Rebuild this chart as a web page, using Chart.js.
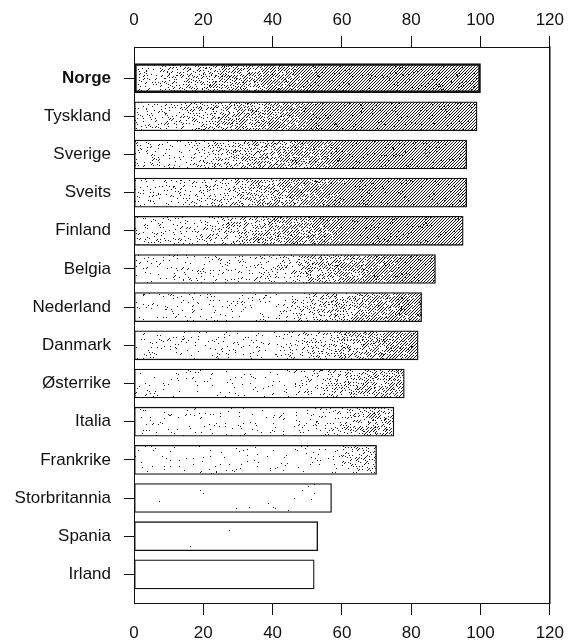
<!DOCTYPE html>
<html>
<head>
<meta charset="utf-8">
<script src="https://cdn.jsdelivr.net/npm/chart.js@4.4.0/dist/chart.umd.min.js"></script>
<style>
  html, body { margin: 0; padding: 0; background: #fff; }
  #wrap { width: 572px; height: 641px; position: relative; }
</style>
</head>
<body>
<div id="wrap"><canvas id="c" width="572" height="641"></canvas></div>
<script>
const categories = ["Norge", "Tyskland", "Sverige", "Sveits", "Finland", "Belgia", "Nederland",
  "Danmark", "Østerrike", "Italia", "Frankrike", "Storbritannia", "Spania", "Irland"];
const values = [100, 99, 96, 96, 95, 87, 83, 82, 78, 75, 70, 57, 53, 52];
const xTicks = [0, 20, 40, 60, 80, 100, 120];

const FONT = "'Liberation Sans', Arial, Helvetica, sans-serif";

function hash(x, y, s) {
  let h = Math.imul(x, 374761393) + Math.imul(y, 668265263) + Math.imul(s, 1442695041);
  h = Math.imul(h ^ (h >>> 13), 1274126177);
  h = h ^ (h >>> 16);
  return (h >>> 0) / 4294967296;
}

const patternCache = {};
function barPattern(ctx) {
  const chart = ctx.chart;
  const i = ctx.dataIndex;
  const v = values[i];
  const xs = chart.scales.x;
  if (!xs) return '#fff';
  const x0 = Math.round(xs.getPixelForValue(0));
  const x1 = Math.round(xs.getPixelForValue(v));
  const key = i + '_' + x0 + '_' + x1;
  if (patternCache[key]) return patternCache[key];
  const W = chart.width, H = 30;
  const off = document.createElement('canvas');
  off.width = W; off.height = H;
  const octx = off.getContext('2d');
  const img = octx.createImageData(W, H);
  const base = Math.pow(Math.max(0, (v - 50) / 50), 2);
  const centre = 0.35 + (100 - v) * 0.025;
  const floor = 0.2 * base;
  const tail = 0.03 * Math.min(1, base * 12);
  for (let x = 0; x < W; x++) {
    let d = 0;
    if (x >= x0 && x <= x1) {
      const t = (x - x0) / Math.max(1, (x1 - x0));
      const ramp = Math.max(0, Math.min(1, 0.5 + (t - centre) / 0.6));
      d = Math.min(1, ramp + floor + tail * t * t);
    }
    for (let y = 0; y < H; y++) {
      const p = (y * W + x) * 4;
      let dark = false;
      if ((x + y) % 3 === 0) {
        dark = hash(x, y, i + 1) < d;
      } else {
        dark = hash(x, y, i + 101) < d * 0.03;
      }
      const c = dark ? 25 : 255;
      img.data[p] = c; img.data[p + 1] = c; img.data[p + 2] = c; img.data[p + 3] = 255;
    }
  }
  octx.putImageData(img, 0, 0);
  const pat = chart.ctx.createPattern(off, 'repeat');
  patternCache[key] = pat;
  return pat;
}

const FS = 17;
const tickFont = { family: FONT, size: FS };

new Chart(document.getElementById('c'), {
  type: 'bar',
  data: {
    datasets: [{
      data: values.map((v, i) => ({ x: v, y: i })),
      backgroundColor: barPattern,
      borderColor: '#111',
      borderWidth: (c) => c.dataIndex === 0 ? 2.5 : 1.3,
      borderSkipped: false,
      barThickness: 29,
      xAxisID: 'x',
      yAxisID: 'y'
    }]
  },
  options: {
    indexAxis: 'y',
    responsive: false,
    animation: false,
    devicePixelRatio: 1,
    layout: { padding: 0 },
    plugins: { legend: { display: false }, tooltip: { enabled: false }, title: { display: false } },
    scales: {
      x: {
        type: 'linear', position: 'bottom', min: 0, max: 120, offset: false,
        afterBuildTicks: (s) => { s.ticks = xTicks.map(v => ({ value: v })); },
        afterFit: (s) => { s.height = 38; },
        ticks: { font: tickFont, color: '#111', padding: 8, maxRotation: 0 },
        grid: { offset: false, drawOnChartArea: false, tickLength: 12, color: (c) => (c.tick && c.tick.value === 0) ? 'rgba(0,0,0,0)' : '#111', lineWidth: 1 },
        border: { display: true, color: '#111', width: 1 }
      },
      x2: {
        type: 'linear', axis: 'x', position: 'top', min: 0, max: 120, offset: false,
        afterBuildTicks: (s) => { s.ticks = xTicks.map(v => ({ value: v })); },
        afterFit: (s) => { s.height = 47; },
        ticks: { font: tickFont, color: '#111', padding: 5, maxRotation: 0 },
        grid: { offset: false, drawOnChartArea: false, tickLength: 11, color: (c) => (c.tick && c.tick.value === 0) ? 'rgba(0,0,0,0)' : '#111', lineWidth: 1 },
        border: { display: true, color: '#111', width: 1 }
      },
      y: {
        type: 'linear', position: 'left', reverse: true, min: -0.815, max: 13.75, offset: false,
        afterBuildTicks: (s) => { s.ticks = categories.map((c, i) => ({ value: i })); },
        afterFit: (s) => { s.width = 134; },
        ticks: {
          callback: (v) => categories[v],
          color: '#111',
          padding: 13,
          font: (c) => ({ family: FONT, size: FS, weight: (c.tick && c.tick.value === 0) ? 'bold' : 'normal' })
        },
        grid: { offset: false, drawOnChartArea: false, tickLength: 10, color: '#111', lineWidth: 1 },
        border: { display: true, color: '#111', width: 1 }
      },
      y2: {
        type: 'linear', axis: 'y', position: 'right', min: 0, max: 1, offset: false,
        afterFit: (s) => { s.width = 14; },
        ticks: { display: false },
        grid: { display: false },
        border: { display: true, color: '#111', width: 1.5 }
      }
    }
  }
});
</script>
</body>
</html>
